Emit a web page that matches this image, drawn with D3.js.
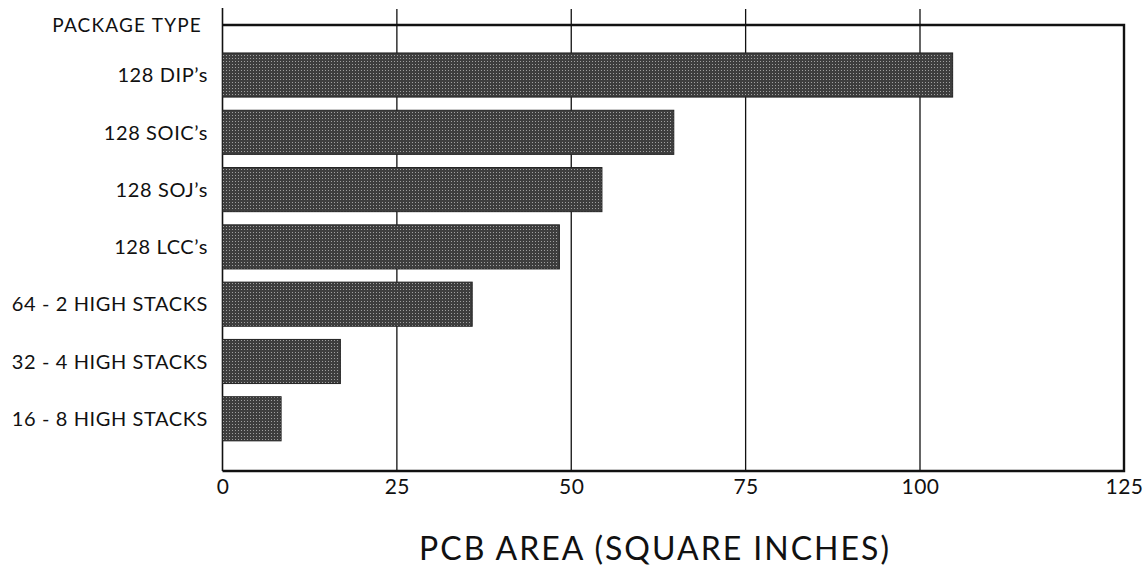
<!DOCTYPE html>
<html>
<head>
<meta charset="utf-8">
<script src="https://cdn.jsdelivr.net/npm/d3@7"></script>
<style>
  html, body { margin: 0; padding: 0; background: #fff; }
  svg { display: block; }
  text { font-family: Lato, "Open Sans", sans-serif; fill: #111; }
</style>
</head>
<body>
<svg id="chart" width="1143" height="577"></svg>
<script>
// ---- data ----
const categories = ["128 DIP’s", "128 SOIC’s", "128 SOJ’s", "128 LCC’s",
                    "64 - 2 HIGH STACKS", "32 - 4 HIGH STACKS", "16 - 8 HIGH STACKS"];
const values = [104, 64.7, 54.4, 48.3, 35.8, 16.9, 8.4];
const tickValues = [0, 25, 50, 75, 100, 125];
const gridValues = [25, 50, 75, 100];
const headerLabel = "PACKAGE TYPE";
const axisTitle = "PCB AREA (SQUARE INCHES)";

// ---- layout ----
const svg = d3.select("#chart");
const frame = { top: 25, bottom: 471 };

// The printed chart's last interval is drawn wider than the others
const x = d3.scaleLinear().domain([0, 100, 125]).range([222.5, 920, 1124]);
const y = d3.scaleBand().domain(categories)
  .range([41.5, 452.3]).paddingInner(0.23).paddingOuter(0.2);

// halftone pattern for bars
const defs = svg.append("defs");
const pat = defs.append("pattern").attr("id", "halftone")
  .attr("patternUnits", "userSpaceOnUse").attr("width", 3).attr("height", 3);
pat.append("rect").attr("width", 3).attr("height", 3).attr("fill", "#3e3e3e");
pat.append("rect").attr("x", 1).attr("y", 1).attr("width", 1).attr("height", 1).attr("fill", "#a0a0a0");

// gridlines (extend a little above the frame)
svg.append("g").selectAll("line").data(gridValues).join("line")
  .attr("x1", d => x(d)).attr("x2", d => x(d))
  .attr("y1", 9).attr("y2", frame.bottom)
  .attr("stroke", "#111").attr("stroke-width", 1.3);

// left axis line (extends above frame too)
svg.append("line")
  .attr("x1", x(0)).attr("x2", x(0)).attr("y1", 8).attr("y2", frame.bottom)
  .attr("stroke", "#111").attr("stroke-width", 1.6);

// frame top, right, bottom
svg.append("path")
  .attr("d", `M${x(0)},${frame.top}H${x(125)}V${frame.bottom}H${x(0)}`)
  .attr("fill", "none").attr("stroke", "#111").attr("stroke-width", 2.4);

// bars
svg.append("g").selectAll("rect").data(categories).join("rect")
  .attr("x", x(0))
  .attr("y", d => y(d))
  .attr("width", (d, i) => x(values[i]) - x(0))
  .attr("height", y.bandwidth())
  .attr("fill", "url(#halftone)")
  .attr("stroke", "#222").attr("stroke-width", 1);

// category labels
svg.append("g").selectAll("text").data(categories).join("text")
  .attr("x", 208)
  .attr("y", d => y(d) + y.bandwidth() / 2)
  .attr("dy", "0.36em")
  .attr("text-anchor", "end")
  .attr("font-size", 20)
  .attr("letter-spacing", 0.6)
  .text(d => d);

// header
svg.append("text")
  .attr("x", 202).attr("y", frame.top).attr("dy", "0.36em")
  .attr("text-anchor", "end").attr("font-size", 19)
  .attr("letter-spacing", 1.2)
  .text(headerLabel);

// x tick labels
const xAxis = d3.axisBottom(x).tickValues(tickValues).tickSize(0).tickPadding(8)
  .tickFormat(d3.format("d"));
const gx = svg.append("g").attr("transform", `translate(0,${frame.bottom})`).call(xAxis);
gx.select(".domain").remove();
gx.selectAll("text").attr("font-size", 21).attr("font-family", "Lato, sans-serif")
  .attr("fill", "#111").attr("letter-spacing", 0.5);

// axis title
svg.append("text")
  .attr("x", 655).attr("y", 548).attr("dy", "0.36em")
  .attr("text-anchor", "middle").attr("font-size", 32)
  .attr("letter-spacing", 2)
  .attr("fill", "#1a1a1a")
  .text(axisTitle);
</script>
</body>
</html>
